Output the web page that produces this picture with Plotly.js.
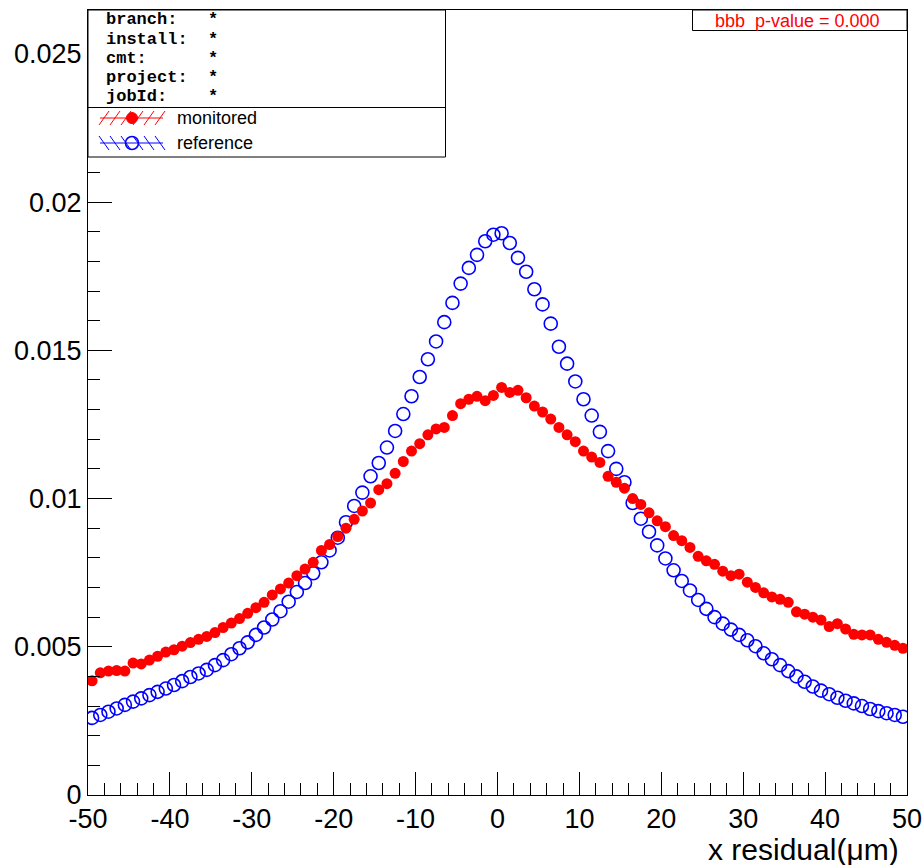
<!DOCTYPE html>
<html>
<head>
<meta charset="utf-8">
<script src="https://cdn.plot.ly/plotly-3.0.1.min.js"></script>
<style>html,body{margin:0;padding:0;background:#fff;}#chart{width:923px;height:865px;}</style>
</head>
<body>
<div id="chart"></div>
<script>
// bin centres of the x residual histogram (um)
const binCenters = [
-49.5,-48.5,-47.5,-46.5,-45.5,-44.5,-43.5,-42.5,-41.5,-40.5,
-39.5,-38.5,-37.5,-36.5,-35.5,-34.5,-33.5,-32.5,-31.5,-30.5,
-29.5,-28.5,-27.5,-26.5,-25.5,-24.5,-23.5,-22.5,-21.5,-20.5,
-19.5,-18.5,-17.5,-16.5,-15.5,-14.5,-13.5,-12.5,-11.5,-10.5,
-9.5,-8.5,-7.5,-6.5,-5.5,-4.5,-3.5,-2.5,-1.5,-0.5,
0.5,1.5,2.5,3.5,4.5,5.5,6.5,7.5,8.5,9.5,
10.5,11.5,12.5,13.5,14.5,15.5,16.5,17.5,18.5,19.5,
20.5,21.5,22.5,23.5,24.5,25.5,26.5,27.5,28.5,29.5,
30.5,31.5,32.5,33.5,34.5,35.5,36.5,37.5,38.5,39.5,
40.5,41.5,42.5,43.5,44.5,45.5,46.5,47.5,48.5,49.5];

const monitored = [
0.00385,0.00412,0.00418,0.00420,0.00418,0.00445,0.00442,0.00455,0.00468,0.00482,
0.00490,0.00502,0.00514,0.00525,0.00535,0.00548,0.00565,0.00580,0.00595,0.00613,
0.00632,0.00650,0.00675,0.00695,0.00715,0.00740,0.00762,0.00785,0.00825,0.00845,
0.00872,0.00900,0.00930,0.00958,0.00985,0.01030,0.01050,0.01085,0.01125,0.01160,
0.01185,0.01215,0.01235,0.01240,0.01280,0.01320,0.01335,0.01345,0.01330,0.01348,
0.01375,0.01358,0.01365,0.01340,0.01312,0.01292,0.01268,0.01240,0.01215,0.01192,
0.01160,0.01140,0.01122,0.01075,0.01055,0.01035,0.01000,0.00980,0.00952,0.00925,
0.00905,0.00875,0.00858,0.00835,0.00805,0.00790,0.00778,0.00755,0.00740,0.00745,
0.00718,0.00700,0.00682,0.00668,0.00660,0.00650,0.00618,0.00610,0.00600,0.00590,
0.00568,0.00578,0.00560,0.00542,0.00540,0.00540,0.00525,0.00515,0.00505,0.00495];

const reference = [
0.00260,0.00270,0.00281,0.00292,0.00304,0.00315,0.00326,0.00337,0.00348,0.00359,
0.00371,0.00384,0.00398,0.00410,0.00422,0.00438,0.00455,0.00475,0.00495,0.00515,
0.00540,0.00565,0.00592,0.00620,0.00652,0.00685,0.00715,0.00748,0.00785,0.00825,
0.00868,0.00920,0.00975,0.01020,0.01075,0.01120,0.01172,0.01228,0.01285,0.01345,
0.01410,0.01470,0.01530,0.01595,0.01660,0.01725,0.01778,0.01822,0.01868,0.01890,
0.01895,0.01862,0.01812,0.01765,0.01706,0.01655,0.01590,0.01512,0.01455,0.01395,
0.01335,0.01280,0.01225,0.01160,0.01100,0.01055,0.00985,0.00932,0.00888,0.00842,
0.00798,0.00758,0.00722,0.00690,0.00658,0.00628,0.00600,0.00578,0.00558,0.00540,
0.00522,0.00502,0.00478,0.00458,0.00438,0.00418,0.00400,0.00382,0.00366,0.00352,
0.00340,0.00328,0.00318,0.00309,0.00300,0.00290,0.00283,0.00276,0.00270,0.00264];

const seriesNames = ["monitored", "reference"];
const xTickVals = [-50, -40, -30, -20, -10, 0, 10, 20, 30, 40, 50];
const xTickText = ["-50", "-40", "-30", "-20", "-10", "0", "10", "20", "30", "40", "50"];
const yTickVals = [0, 0.005, 0.01, 0.015, 0.02, 0.025];
const yTickText = ["0", "0.005", "0.01", "0.015", "0.02", "0.025"];
const infoLabels = ["branch:", "install:", "cmt:", "project:", "jobId:"];
const infoValues = ["*", "*", "*", "*", "*"];
const pValueText = "bbb  p-value = 0.000";
const xTitle = "x residual(\u03bcm)";

// ---- layout geometry (pixel helpers) ----
const W = 923, H = 865;
const M = {l: 88, r: 16, t: 10, b: 70};
const PW = W - M.l - M.r, PH = H - M.t - M.b;
const px = v => (v - M.l) / PW;
const py = v => (H - M.b - v) / PH;

const traces = [
  {x: binCenters, y: reference, name: seriesNames[1], type: 'scatter', mode: 'markers',
   marker: {symbol: 'circle-open', size: 13, color: '#0000ff', line: {width: 1.6, color: '#0000ff'}}},
  {x: binCenters, y: monitored, name: seriesNames[0], type: 'scatter', mode: 'markers',
   marker: {symbol: 'circle', size: 11, color: '#ff0000'}}
];

const shapes = [];
const annotations = [];

// info box
shapes.push({type: 'rect', xref: 'paper', yref: 'paper', x0: px(88), x1: px(445.5), y0: py(157), y1: py(10),
  line: {color: 'black', width: 1}, fillcolor: 'white', layer: 'above'});
shapes.push({type: 'line', xref: 'paper', yref: 'paper', x0: px(88), x1: px(445.5), y0: py(107.5), y1: py(107.5),
  line: {color: 'black', width: 1}});
const infoY = [19.5, 39.5, 58.5, 77.5, 96.5];
infoLabels.forEach((t, i) => {
  annotations.push({xref: 'paper', yref: 'paper', x: px(104), y: py(infoY[i]), xanchor: 'left', yanchor: 'middle',
    text: '<b>' + t + '</b>', showarrow: false, font: {family: 'Liberation Mono, Courier New, monospace', size: 17, color: 'black'}});
  annotations.push({xref: 'paper', yref: 'paper', x: px(206), y: py(infoY[i]), xanchor: 'left', yanchor: 'middle',
    text: '<b>' + infoValues[i] + '</b>', showarrow: false, font: {family: 'Liberation Mono, Courier New, monospace', size: 17, color: 'black'}});
});

// legend entries
const legRows = [{y: 118, name: seriesNames[0], color: '#ff0000', dir: 1, filled: true},
                 {y: 143, name: seriesNames[1], color: '#0000ff', dir: -1, filled: false}];
legRows.forEach(r => {
  shapes.push({type: 'line', xref: 'paper', yref: 'paper', x0: px(100), x1: px(163), y0: py(r.y), y1: py(r.y),
    line: {color: r.color, width: 1}});
  [104, 115, 126, 138, 149, 160].forEach(c => {
    shapes.push({type: 'line', xref: 'paper', yref: 'paper',
      x0: px(c - 5), x1: px(c + 5), y0: py(r.y + 7 * r.dir), y1: py(r.y - 7 * r.dir),
      line: {color: r.color, width: 1}});
  });
  if (r.filled) {
    shapes.push({type: 'circle', xref: 'paper', yref: 'paper', x0: px(126.5), x1: px(137.5), y0: py(r.y + 5.5), y1: py(r.y - 5.5),
      line: {color: r.color, width: 1}, fillcolor: r.color});
  } else {
    shapes.push({type: 'circle', xref: 'paper', yref: 'paper', x0: px(125.5), x1: px(138.5), y0: py(r.y + 6.5), y1: py(r.y - 6.5),
      line: {color: r.color, width: 1.6}, fillcolor: 'rgba(0,0,0,0)'});
  }
  annotations.push({xref: 'paper', yref: 'paper', x: px(175), y: py(r.y), xanchor: 'left', yanchor: 'middle',
    text: r.name, showarrow: false, font: {family: 'Liberation Sans, Arial, sans-serif', size: 18, color: 'black'}});
});

// p-value box
shapes.push({type: 'rect', xref: 'paper', yref: 'paper', x0: px(692.5), x1: px(907), y0: py(30.5), y1: py(10),
  line: {color: 'black', width: 1}, fillcolor: 'white', layer: 'above'});
annotations.push({xref: 'paper', yref: 'paper', x: px(797), y: py(20.5), xanchor: 'center', yanchor: 'middle',
  text: pValueText.replace(/  /g, ' &nbsp;'), showarrow: false, font: {family: 'Liberation Sans, Arial, sans-serif', size: 18, color: '#ff0000'}});

// x axis title (right aligned, as in ROOT)
annotations.push({xref: 'paper', yref: 'paper', x: px(901), y: py(849), xanchor: 'right', yanchor: 'middle',
  text: xTitle, showarrow: false, font: {family: 'Liberation Sans, Arial, sans-serif', size: 30, color: 'black'}});

const tickFont = {family: 'Liberation Sans, Arial, sans-serif', size: 27, color: 'black'};
const layout = {
  width: W, height: H, margin: M,
  paper_bgcolor: 'white', plot_bgcolor: 'white',
  showlegend: false,
  xaxis: {range: [-50, 50], tickmode: 'array', tickvals: xTickVals, ticktext: xTickText,
    ticks: 'inside', ticklen: 23, tickwidth: 1, tickcolor: 'black',
    showline: true, linecolor: 'black', linewidth: 1, mirror: true, showgrid: false, zeroline: false,
    tickfont: tickFont, minor: {ticks: 'inside', tick0: 0, dtick: 2, ticklen: 12, tickcolor: 'black', showgrid: false}},
  yaxis: {range: [0, 0.02648], tickmode: 'array', tickvals: yTickVals, ticktext: yTickText,
    ticks: 'inside', ticklen: 24, tickwidth: 1, tickcolor: 'black',
    showline: true, linecolor: 'black', linewidth: 1, mirror: true, showgrid: false, zeroline: false,
    tickfont: tickFont, minor: {ticks: 'inside', tick0: 0, dtick: 0.001, ticklen: 12, tickcolor: 'black', showgrid: false}},
  shapes: shapes,
  annotations: annotations
};

Plotly.newPlot('chart', traces, layout, {displayModeBar: false, staticPlot: true});
</script>
</body>
</html>
